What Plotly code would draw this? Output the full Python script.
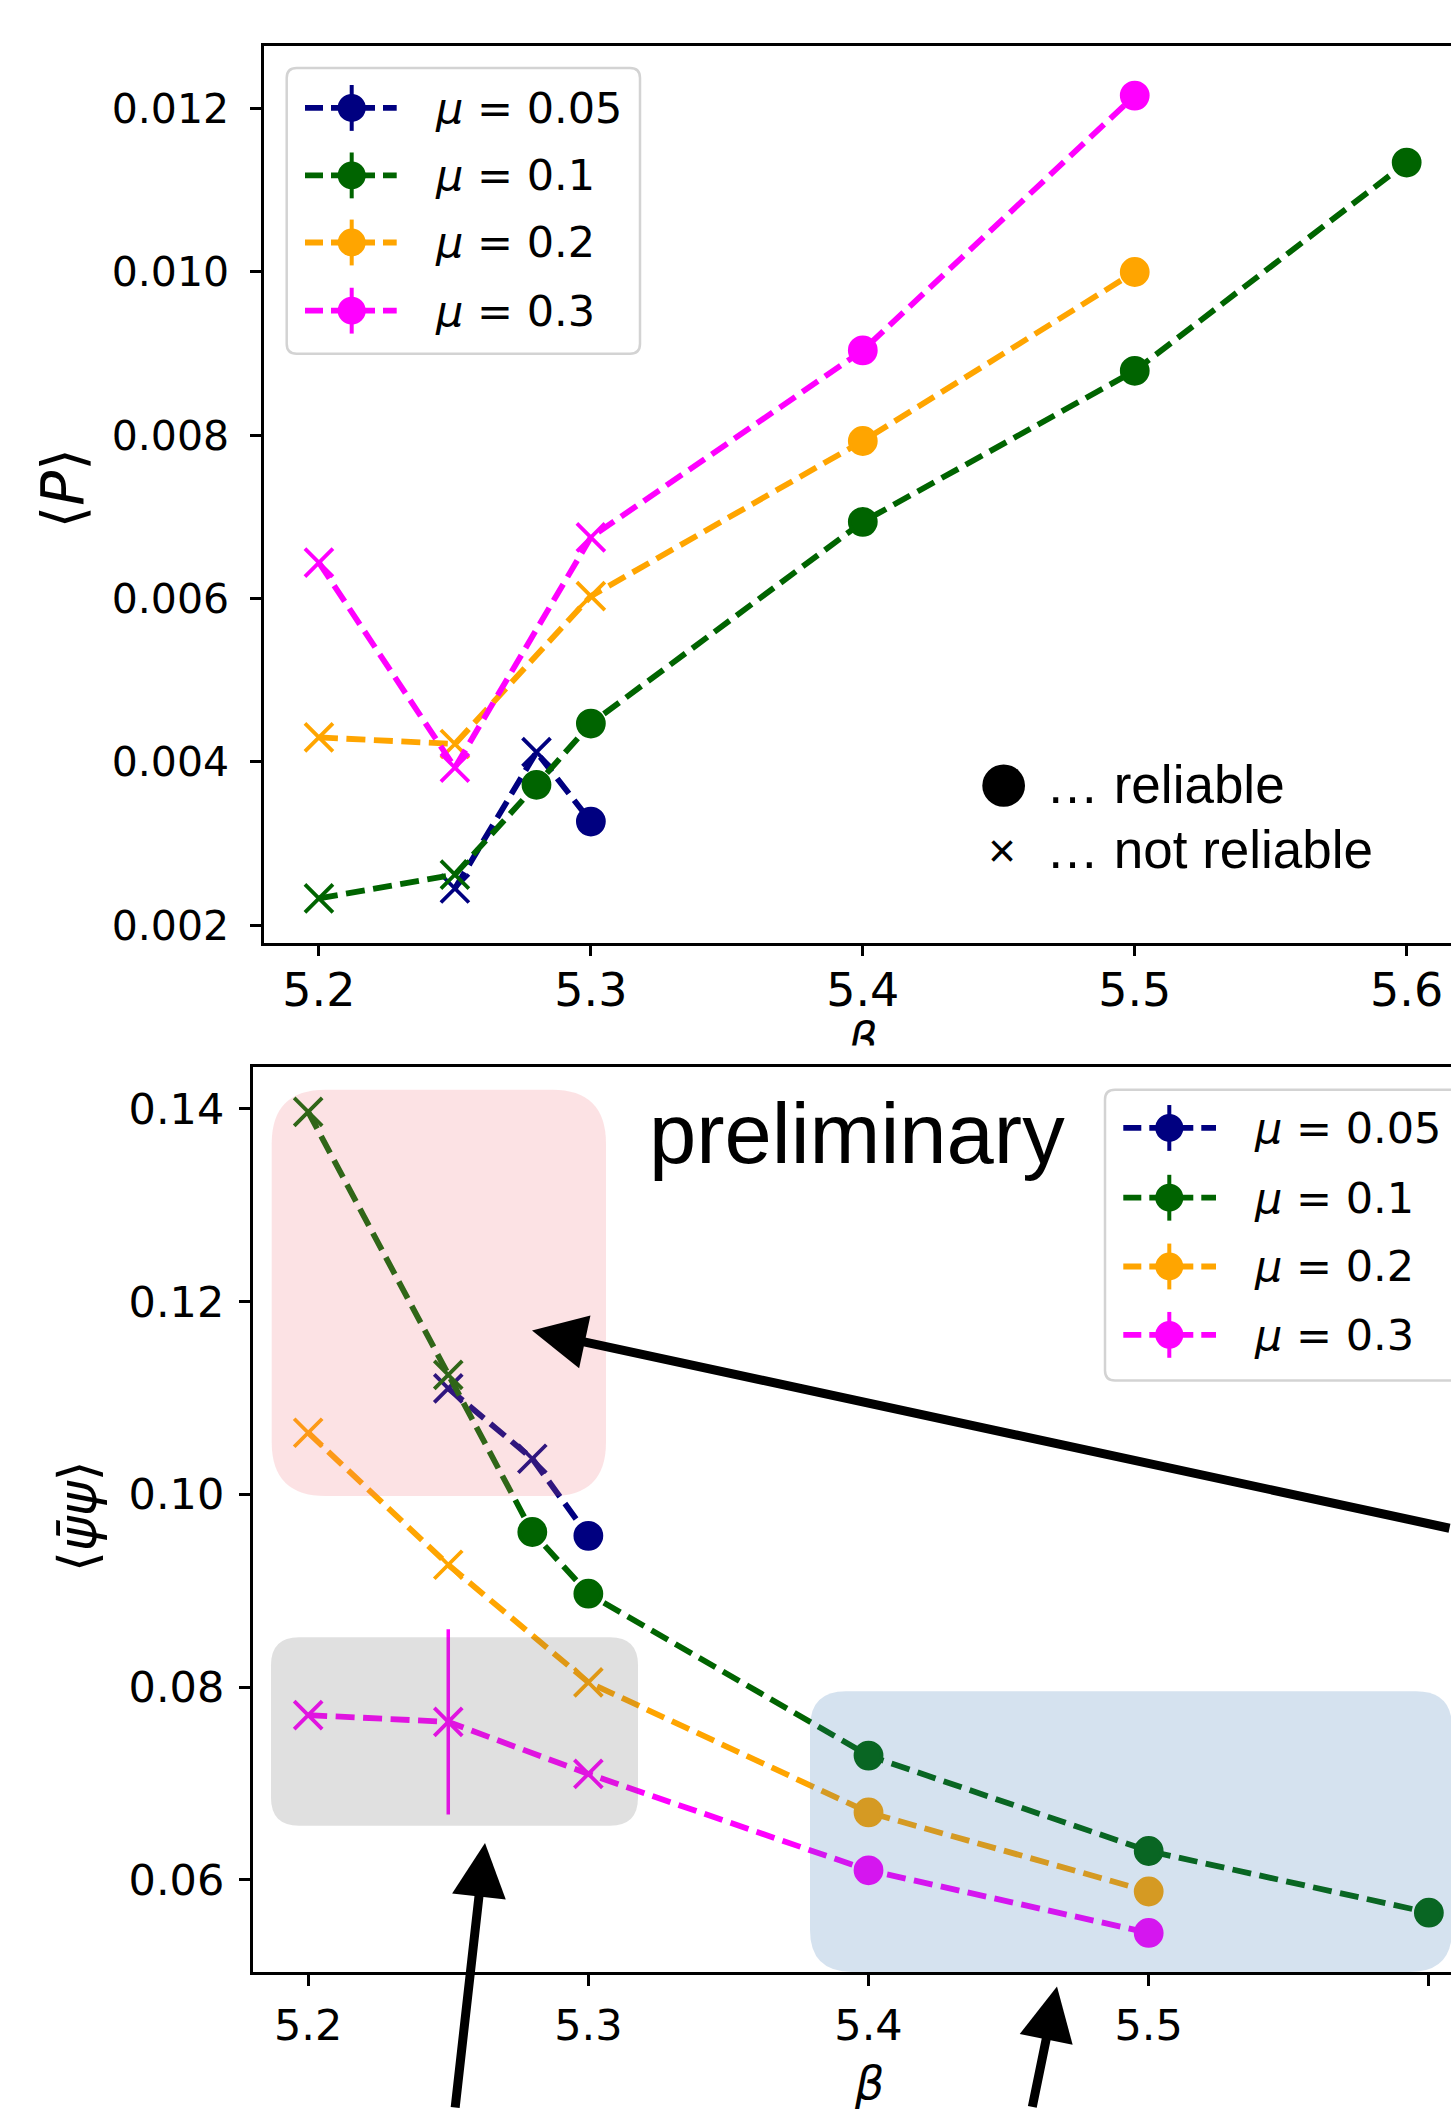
import plotly.graph_objects as go

# ---------------- data ----------------
beta_005 = [5.25, 5.28, 5.30]
P_005 = [0.00245, 0.00412, 0.00327]
pbp_005 = [0.1110, 0.1037, 0.0957]
rel_005 = [0, 0, 1]

beta_01 = [5.20, 5.25, 5.28, 5.30, 5.40, 5.50, 5.60]
P_01 = [0.00233, 0.00262, 0.00372, 0.00447, 0.00694, 0.00879, 0.01134]
pbp_01 = [0.1397, 0.1124, 0.0961, 0.0897, 0.0729, 0.0630, 0.0566]
rel_01 = [0, 0, 1, 1, 1, 1, 1]

beta_02 = [5.20, 5.25, 5.30, 5.40, 5.50]
P_02 = [0.00430, 0.00422, 0.00603, 0.00793, 0.01000]
pbp_02 = [0.1064, 0.0927, 0.0805, 0.0670, 0.0588]
rel_02 = [0, 0, 0, 1, 1]

beta_03 = [5.20, 5.25, 5.30, 5.40, 5.50]
P_03 = [0.00644, 0.00393, 0.00675, 0.00904, 0.01216]
pbp_03 = [0.0771, 0.0764, 0.0710, 0.0610, 0.0545]
pbp_03_err = [0.0, 0.0096, 0.0, 0.0, 0.0]
rel_03 = [0, 0, 0, 1, 1]

mu_labels = ["0.05", "0.1", "0.2", "0.3"]
colors = ["#000080", "#006400", "#FFA500", "#FF00FF"]

x_ticks = [5.2, 5.3, 5.4, 5.5, 5.6]
P_ticks = [0.002, 0.004, 0.006, 0.008, 0.010, 0.012]
pbp_ticks = [0.06, 0.08, 0.10, 0.12, 0.14]

series = [
    (beta_005, P_005, pbp_005, None, rel_005),
    (beta_01, P_01, pbp_01, None, rel_01),
    (beta_02, P_02, pbp_02, None, rel_02),
    (beta_03, P_03, pbp_03, pbp_03_err, rel_03),
]

# ---------------- geometry helpers ----------------
W, H = 1451, 2115


def X(px):
    return px / W


def Y(py):
    return 1 - py / H


def rrect(x0, y0, x1, y1, r, rb=None):
    if rb is None:
        rb = r
    pts = [
        ("M", [(x0 + r, y0)]),
        ("L", [(x1 - r, y0)]),
        ("Q", [(x1, y0), (x1, y0 + r)]),
        ("L", [(x1, y1 - rb)]),
        ("Q", [(x1, y1), (x1 - rb, y1)]),
        ("L", [(x0 + rb, y1)]),
        ("Q", [(x0, y1), (x0, y1 - rb)]),
        ("L", [(x0, y0 + r)]),
        ("Q", [(x0, y0), (x0 + r, y0)]),
    ]
    s = ""
    for cmd, ps in pts:
        s += cmd + " ".join(f"{X(a):.5f},{Y(b):.5f}" for a, b in ps) + " "
    return s + "Z"


LW = 5.8
DASH = "19px,8.5px"
FONT = "DejaVu Sans"
ARIAL = "Liberation Sans"

fig = go.Figure()

for i, (bx, p, q, qerr, rel) in enumerate(series):
    c = colors[i]
    sym = ["circle" if r else "x-thin" for r in rel]
    siz = [26 if r else 28 for r in rel]
    mk = dict(symbol=sym, size=siz, color=c, opacity=1,
              line=dict(color=c, width=3.8))
    fig.add_trace(go.Scatter(
        x=bx, y=p, mode="lines+markers", xaxis="x", yaxis="y",
        line=dict(color=c, width=LW, dash=DASH), marker=mk,
        hoverinfo="skip", showlegend=False))
    ey = None
    if qerr is not None:
        ey = dict(type="data", array=qerr, visible=True, color=c,
                  thickness=3.5, width=0)
    fig.add_trace(go.Scatter(
        x=bx, y=q, mode="lines+markers", xaxis="x2", yaxis="y2",
        line=dict(color=c, width=LW, dash=DASH), marker=mk, error_y=ey,
        hoverinfo="skip", showlegend=False))

# clipped (cut-off) x-axis label of the upper panel
fig.add_trace(go.Scatter(
    x=[863], y=[1047], mode="text", text=["<i>β</i>"], xaxis="x3", yaxis="y3",
    textfont=dict(family=FONT, size=46, color="black"),
    textposition="middle center", cliponaxis=True,
    hoverinfo="skip", showlegend=False))

axis_common = dict(
    showline=True, linecolor="black", linewidth=2.5, ticks="outside",
    ticklen=11, tickwidth=2.5, tickcolor="black", showgrid=False,
    zeroline=False,
)


def tf(size):
    return dict(family=FONT, size=size, color="black")


fig.update_layout(
    width=W, height=H, margin=dict(l=0, r=0, t=0, b=0),
    paper_bgcolor="white", plot_bgcolor="white", showlegend=False,
    xaxis=dict(axis_common, domain=[X(264), 1], range=[5.1798, 5.6163],
               anchor="y", mirror=True, tickvals=x_ticks,
               ticktext=[f"{v:.1f}" for v in x_ticks],
               tickfont=tf(46), ticklabelstandoff=-6),
    yaxis=dict(axis_common, domain=[Y(945.7), Y(45.7)],
               range=[0.001788, 0.012773], anchor="x", tickvals=P_ticks,
               ticktext=[f"{v:.3f}" for v in P_ticks],
               tickfont=tf(41), ticklabelstandoff=13),
    xaxis2=dict(axis_common, domain=[X(252.7), 1], range=[5.1802, 5.6079],
                anchor="y2", mirror=True, tickvals=x_ticks,
                ticktext=[f"{v:.1f}" for v in x_ticks],
                tickfont=tf(43), ticklabelstandoff=2),
    yaxis2=dict(axis_common, domain=[Y(1979), Y(1071)],
                range=[0.0504, 0.1443], anchor="x2", tickvals=pbp_ticks,
                ticktext=[f"{v:.2f}" for v in pbp_ticks],
                tickfont=tf(43), ticklabelstandoff=6),
    xaxis3=dict(domain=[0, 1], range=[0, W], visible=False, anchor="y3",
                fixedrange=True),
    yaxis3=dict(domain=[Y(1049), Y(1020)], range=[1049, 1020],
                visible=False, anchor="x3", fixedrange=True),
)

shapes = []
# translucent highlight boxes (drawn above the data)
shapes.append(dict(type="path", path=rrect(271.7, 1093.3, 606, 1501, 54),
                   xref="paper", yref="paper", fillcolor="rgba(240,110,120,0.2)",
                   line=dict(width=0), layer="above"))
shapes.append(dict(type="path", path=rrect(271, 1642.7, 638, 1831.7, 28),
                   xref="paper", yref="paper", fillcolor="rgba(100,100,100,0.2)",
                   line=dict(width=0), layer="above"))
shapes.append(dict(type="path", path=rrect(810, 1697, 1452, 1978.5, 36, 42),
                   xref="paper", yref="paper", fillcolor="rgba(45,110,175,0.2)",
                   line=dict(width=0), layer="above"))


def legend_block(x0, y0, x1, y1, line_x0, line_x1, mx, rows, tx):
    shapes.append(dict(type="path", path=rrect(x0, y0, x1, y1, 10),
                       xref="paper", yref="paper",
                       fillcolor="rgba(255,255,255,0.8)",
                       line=dict(color="#d3d3d3", width=2.5), layer="above"))
    for i, yy in enumerate(rows):
        c = colors[i]
        shapes.append(dict(type="line", xref="paper", yref="paper",
                           x0=X(line_x0), x1=X(line_x1), y0=Y(yy), y1=Y(yy),
                           line=dict(color=c, width=LW, dash="18px,8px"),
                           layer="above"))
        shapes.append(dict(type="line", xref="paper", yref="paper",
                           x0=X(mx), x1=X(mx), y0=Y(yy - 23), y1=Y(yy + 23),
                           line=dict(color=c, width=4), layer="above"))
        shapes.append(dict(type="circle", xref="paper", yref="paper",
                           x0=X(mx - 14), x1=X(mx + 14),
                           y0=Y(yy + 14), y1=Y(yy - 14),
                           fillcolor=c, line=dict(width=0), layer="above"))
        fig.add_annotation(x=X(tx), y=Y(yy), xref="paper", yref="paper",
                           xanchor="left", yanchor="middle", showarrow=False,
                           text=f"<i>μ</i> = {mu_labels[i]}",
                           font=dict(family=FONT, size=43, color="black"))


legend_block(286.7, 68.3, 640, 355, 305, 396.7, 351.7,
             [108.3, 176, 243.3, 311.7], 432.7)
legend_block(1105, 1093.3, 1475, 1385, 1123.3, 1216, 1169.3,
             [1131.7, 1201.7, 1270.7, 1339.3], 1251.7)

# reliability key
shapes.append(dict(type="circle", xref="paper", yref="paper",
                   x0=X(982.3), x1=X(1025), y0=Y(809.5), y1=Y(767),
                   fillcolor="black", line=dict(width=0), layer="above"))
fig.update_layout(shapes=shapes)

fig.add_annotation(x=X(1044), y=Y(787), xref="paper", yref="paper",
                   xanchor="left", yanchor="middle", showarrow=False,
                   text="… reliable", font=dict(family=ARIAL, size=53, color="black"))
fig.add_annotation(x=X(1044), y=Y(852), xref="paper", yref="paper",
                   xanchor="left", yanchor="middle", showarrow=False,
                   text="… not reliable", font=dict(family=ARIAL, size=53, color="black"))
fig.add_annotation(x=X(1001.7), y=Y(853), xref="paper", yref="paper",
                   xanchor="center", yanchor="middle", showarrow=False,
                   text="×", font=dict(family=ARIAL, size=48, color="black"))

fig.add_annotation(x=X(857), y=Y(1137), xref="paper", yref="paper",
                   xanchor="center", yanchor="middle", showarrow=False,
                   text="preliminary", font=dict(family=ARIAL, size=85, color="black"))

# axis titles
fig.add_annotation(x=X(63), y=Y(490), xref="paper", yref="paper",
                   xanchor="center", yanchor="middle", showarrow=False,
                   textangle=-90, text="⟨<i>P</i>⟩",
                   font=dict(family=FONT, size=58, color="black"))
fig.add_annotation(x=X(78), y=Y(1522), xref="paper", yref="paper",
                   xanchor="center", yanchor="middle", showarrow=False,
                   textangle=-90, text="⟨<i>ψ̄ψ</i>⟩",
                   font=dict(family=FONT, size=53, color="black"))
fig.add_annotation(x=X(868.6), y=Y(2090), xref="paper", yref="paper",
                   xanchor="center", yanchor="middle", showarrow=False,
                   text="<i>β</i>", font=dict(family=FONT, size=46, color="black"))

# arrows (tails sit on the page edge)
for tipx, tipy, tailx, taily in [(532, 1335, 1451, 1533), (485, 1849, 455, 2115),
                                 (1057, 1993, 1032, 2115)]:
    fig.add_annotation(x=X(tipx), y=Y(tipy), xref="paper", yref="paper",
                       ax=tailx - tipx, ay=taily - tipy, axref="pixel",
                       ayref="pixel", text="",
                       showarrow=True, arrowhead=2, arrowsize=1.2,
                       arrowwidth=9, arrowcolor="black", standoff=0)

fig.write_html("out.html")
